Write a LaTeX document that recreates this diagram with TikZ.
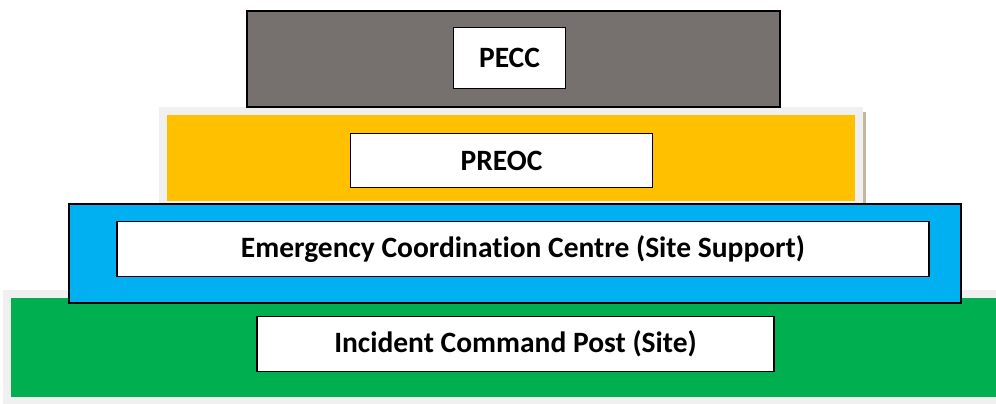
\documentclass[tikz,border=0pt]{standalone}
\usepackage{fontspec}
\setmainfont[Ligatures=CommonOff]{Carlito}
\usetikzlibrary{positioning}

\definecolor{peccgray}{RGB}{118,113,111}
\definecolor{preocorange}{RGB}{255,192,0}
\definecolor{eccblue}{RGB}{0,176,240}
\definecolor{icpgreen}{RGB}{0,176,80}
\definecolor{backdrop}{RGB}{240,240,240}
\definecolor{shadetan}{RGB}{196,184,154}

\tikzset{
	tierbox/.style={draw=black, line width=1.5pt, fill=white, inner sep=0pt,
		font=\fontsize{29.5}{32}\selectfont\bfseries},
	framed/.style={draw=black, line width=2pt}
}

\begin{document}
\begin{tikzpicture}[x=1pt, y=-1pt]
	% ====== canvas ======
	\useasboundingbox (0,0) rectangle (996,404);
	
	% ====== bottom tier: site ======
	\fill[backdrop] (3,290) rectangle (996,404);
	\fill[icpgreen] (11,298) rectangle (996,397);
	
	% ====== tier 3: site support ======
	\fill[eccblue, framed] (69,204) rectangle (961,303);
	
	% ====== tier 2 ======
	\fill[shadetan] (862,112) rectangle (866,203);
	\fill[backdrop] (159,107) rectangle (863,203);
	\fill[preocorange] (167,115) rectangle (855,201);
	
	% ====== top tier ======
	\fill[peccgray, framed] (247,11) rectangle (780,107);
	
	% ====== labels ======
	\node[tierbox, minimum width=112pt, minimum height=61pt] (pecc) at (509.5,58) {PECC};
	\node[tierbox, minimum width=302pt, minimum height=54pt] (preoc) at (501.5,160.5) {PREOC};
	\node[tierbox, minimum width=812pt, minimum height=55pt] (ecc) at (523,249)
	{Emergency Coordination Centre (Site Support)};
	\node[tierbox, minimum width=517pt, minimum height=55pt] (icp) at (515.5,344)
	{Incident Command Post (Site)};
\end{tikzpicture}
\end{document}
